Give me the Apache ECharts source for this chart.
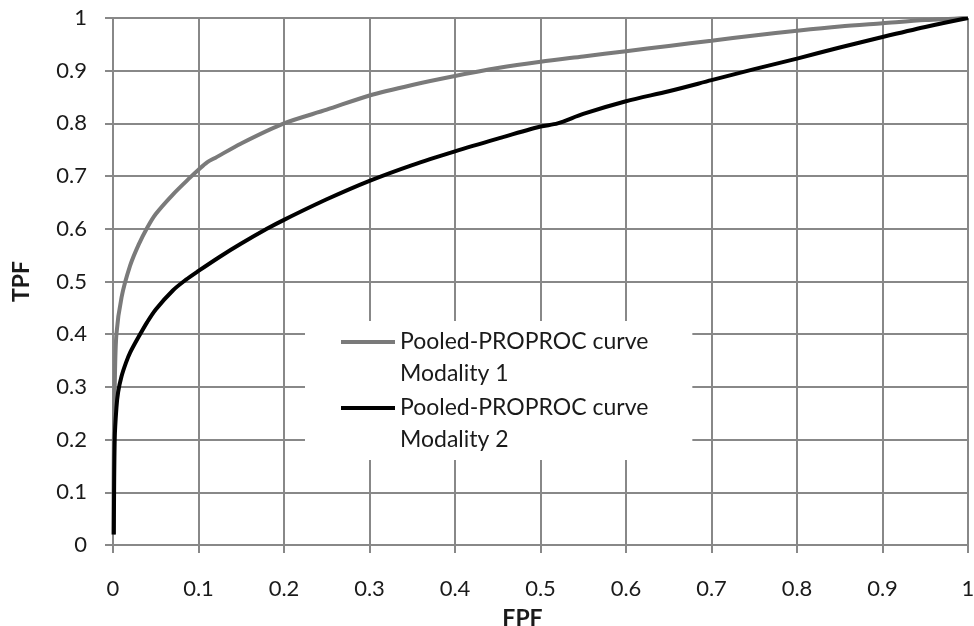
<!DOCTYPE html>
<html>
<head>
<meta charset="utf-8">
<script src="https://cdn.jsdelivr.net/npm/echarts@6.0.0/dist/echarts.min.js"></script>
<style>
  html, body { margin: 0; padding: 0; background: #fff; }
  #mChart { width: 974px; height: 626px; }
</style>
</head>
<body>
<div id="mChart"></div>
<script>
  // tick values for both axes
  var xTicks = [0, 0.1, 0.2, 0.3, 0.4, 0.5, 0.6, 0.7, 0.8, 0.9, 1];
  var yTicks = [0, 0.1, 0.2, 0.3, 0.4, 0.5, 0.6, 0.7, 0.8, 0.9, 1];

  var seriesNames = ['Pooled-PROPROC curve Modality 1', 'Pooled-PROPROC curve Modality 2'];

  // [FPF, TPF]
  var modality1 = [
    [0.0005, 0.02], [0.001, 0.2], [0.002, 0.3], [0.004, 0.40], [0.01, 0.47], [0.02, 0.53],
    [0.03, 0.57], [0.04, 0.602], [0.05, 0.628], [0.07, 0.665], [0.09, 0.697], [0.1, 0.712],
    [0.11, 0.726], [0.12, 0.735], [0.15, 0.762], [0.2, 0.80], [0.25, 0.826],
    [0.3, 0.853], [0.35, 0.873], [0.4, 0.89], [0.45, 0.905], [0.5, 0.917], [0.55, 0.927],
    [0.6, 0.937], [0.65, 0.947], [0.7, 0.957], [0.75, 0.967], [0.8, 0.976], [0.85, 0.984],
    [0.9, 0.990], [0.95, 0.996], [1, 1]
  ];
  var modality2 = [
    [0.001, 0.02], [0.002, 0.2], [0.004, 0.26], [0.006, 0.29], [0.01, 0.32], [0.015, 0.345],
    [0.02, 0.365], [0.03, 0.395], [0.04, 0.423], [0.05, 0.447], [0.07, 0.483], [0.085, 0.503],
    [0.1, 0.52], [0.125, 0.547], [0.15, 0.572], [0.18, 0.6], [0.2, 0.617], [0.25, 0.656],
    [0.3, 0.691], [0.35, 0.721], [0.4, 0.747], [0.45, 0.771], [0.5, 0.794], [0.52, 0.800],
    [0.55, 0.818], [0.6, 0.842], [0.65, 0.861], [0.7, 0.882], [0.75, 0.903], [0.8, 0.923],
    [0.85, 0.944], [0.9, 0.964], [0.95, 0.983], [1, 1]
  ];

  var gridGray = '#888';
  var font = 'Lato, "Open Sans", sans-serif';

  // legend swatch: bar sits on the first text line, tiny corner dots keep the box 54x64
  var legendIcon = 'path://M0,0h0.01v0.01h-0.01Z M0,14h54v4h-54Z M53.99,63.99h0.01v0.01h-0.01Z';

  var myChart = echarts.init(document.getElementById('mChart'));
  myChart.setOption({
    animation: false,
    backgroundColor: '#fff',
    // fixed plot box, no auto shrink for labels
    grid: { left: 113, right: 6, top: 18, bottom: 81, containLabel: false, outerBoundsMode: 'none' },
    legend: {
      data: seriesNames,
      orient: 'vertical',
      left: 305,
      top: 321,
      padding: [5, 44, 4, 36],
      itemGap: 2,
      itemWidth: 54,
      itemHeight: 64,
      icon: legendIcon,
      itemStyle: { borderWidth: 0 },
      selectedMode: false,
      backgroundColor: '#fff',
      formatter: function (name) { return name.replace(' Modality', '\nModality'); },
      textStyle: { fontFamily: font, fontSize: 23, color: '#1a1a1a', lineHeight: 32 }
    },
    xAxis: {
      type: 'value',
      min: xTicks[0],
      max: xTicks[xTicks.length - 1],
      interval: 0.1,
      name: 'FPF',
      nameLocation: 'middle',
      nameGap: 62,
      nameTextStyle: { fontFamily: font, fontSize: 23, fontWeight: 'bold', color: '#1a1a1a', padding: [0, 36, 0, 0] },
      axisLine: { show: true, lineStyle: { color: gridGray, width: 2 } },
      axisTick: { show: true, length: 8, lineStyle: { color: gridGray, width: 2 } },
      axisLabel: { margin: 33, fontFamily: font, fontSize: 22, color: '#1a1a1a', showMinLabel: true, showMaxLabel: true },
      splitLine: { show: true, lineStyle: { color: gridGray, width: 2 } }
    },
    yAxis: {
      type: 'value',
      min: yTicks[0],
      max: yTicks[yTicks.length - 1],
      interval: 0.1,
      name: 'TPF',
      nameLocation: 'middle',
      nameGap: 80,
      nameTextStyle: { fontFamily: font, fontSize: 23, fontWeight: 'bold', color: '#1a1a1a' },
      axisLine: { show: true, lineStyle: { color: gridGray, width: 2 } },
      axisTick: { show: true, length: 8, lineStyle: { color: gridGray, width: 2 } },
      axisLabel: { margin: 26, fontFamily: font, fontSize: 22, color: '#1a1a1a' },
      splitLine: { show: true, lineStyle: { color: gridGray, width: 2 } }
    },
    series: [
      {
        name: seriesNames[0],
        type: 'line',
        data: modality1,
        symbol: 'none',
        smooth: 0.3,
        color: '#7a7a7a',
        lineStyle: { width: 4, color: '#7a7a7a' }
      },
      {
        name: seriesNames[1],
        type: 'line',
        data: modality2,
        symbol: 'none',
        smooth: 0.3,
        color: '#000',
        lineStyle: { width: 4, color: '#000' }
      }
    ]
  });
</script>
</body>
</html>
